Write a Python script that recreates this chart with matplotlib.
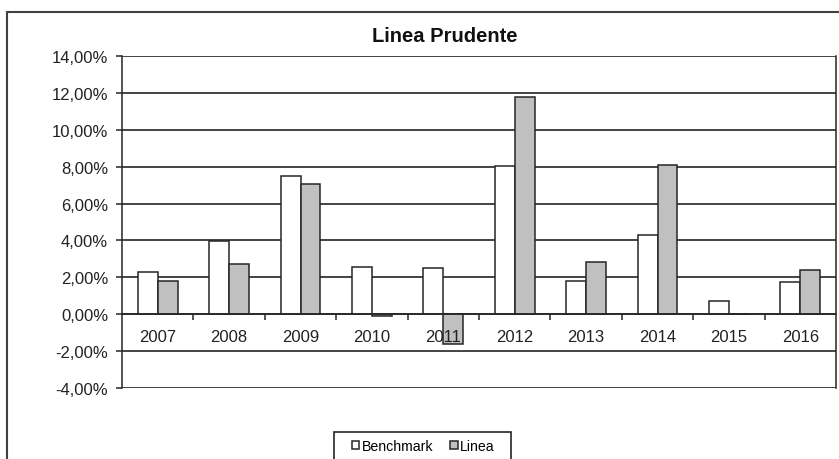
import numpy as np
import matplotlib
matplotlib.use("Agg")
import matplotlib.pyplot as plt
from matplotlib.patches import Rectangle, Patch

plt.rcParams['font.family'] = ['Liberation Sans', 'DejaVu Sans']

anni = ['2007', '2008', '2009', '2010', '2011', '2012', '2013', '2014', '2015', '2016']
benchmark = [2.30, 3.96, 7.52, 2.57, 2.48, 8.02, 1.81, 4.28, 0.70, 1.72]
linea = [1.81, 2.75, 7.08, -0.08, -1.63, 11.78, 2.84, 8.11, 0.0, 2.38]
y_ticks = [-4, -2, 0, 2, 4, 6, 8, 10, 12, 14]

W, H = 839, 460
fig = plt.figure(figsize=(W / 100, H / 100), dpi=100)

# cornice esterna del grafico
fig.patches.append(Rectangle((7 / W, -0.1), 1.2, 1 - 13 / H + 0.1,
                             transform=fig.transFigure, fill=False,
                             edgecolor='#404040', lw=1.5))

ax = fig.add_axes([122 / W, 1 - 389 / H, (836 - 122) / W, (389 - 57) / H])

# griglia sotto le barre, etichette sopra
for v in y_ticks:
    ax.axhline(v, color='#111111', lw=1.1, zorder=0.5)

x = np.arange(len(anni))
w = 0.28
ax.bar(x - w / 2, benchmark, w, color='white', edgecolor='#262626', lw=1.1, zorder=1)
ax.bar(x + w / 2, linea, w, color='#c0c0c0', edgecolor='#262626', lw=1.1, zorder=1)
ax.set_axisbelow(False)

ax.set_xlim(-0.5, len(anni) - 0.5)
ax.set_ylim(-4, 14)
ax.set_yticks(y_ticks)
ax.set_yticklabels([('%.2f%%' % v).replace('.', ',') for v in y_ticks])

ax.spines['bottom'].set_position(('data', 0))
ax.spines['top'].set_visible(False)
for s in ['left', 'right', 'bottom']:
    ax.spines[s].set_color('#262626')
    ax.spines[s].set_linewidth(1.1)

ax.set_xticks(np.arange(0.5, len(anni) - 0.5, 1))
ax.set_xticklabels([])
ax.set_xticks(x, minor=True)
ax.set_xticklabels(anni, minor=True)
ax.tick_params(axis='x', which='major', direction='out', length=4, width=1.1, color='#262626')
ax.tick_params(axis='x', which='minor', length=0, pad=11, labelsize=12, labelcolor='#222222')
ax.tick_params(axis='y', direction='out', length=4, width=1.1, color='#262626',
               pad=6, labelsize=12, labelcolor='#222222')

fig.text(445 / W, 1 - 37 / H, 'Linea Prudente', ha='center', va='center',
         fontsize=14.5, fontweight='bold', color='#111111')

# riquadro della legenda
fig.patches.append(Rectangle((334 / W, -0.1), (511 - 334) / W, 1 - 433 / H + 0.1,
                             transform=fig.transFigure, fill=False,
                             edgecolor='#262626', lw=1.2))
handles = [Patch(facecolor='white', edgecolor='#262626', lw=1.1),
           Patch(facecolor='#c0c0c0', edgecolor='#262626', lw=1.1)]
fig.legend(handles, ['Benchmark', 'Linea'], loc='center left',
           bbox_to_anchor=(352 / W, 1 - 447 / H), ncol=2, frameon=False,
           fontsize=10.2, handlelength=0.5, handleheight=0.5, handletextpad=0.2,
           columnspacing=1.2, borderpad=0, borderaxespad=0)

fig.savefig('out.png', dpi=100)
